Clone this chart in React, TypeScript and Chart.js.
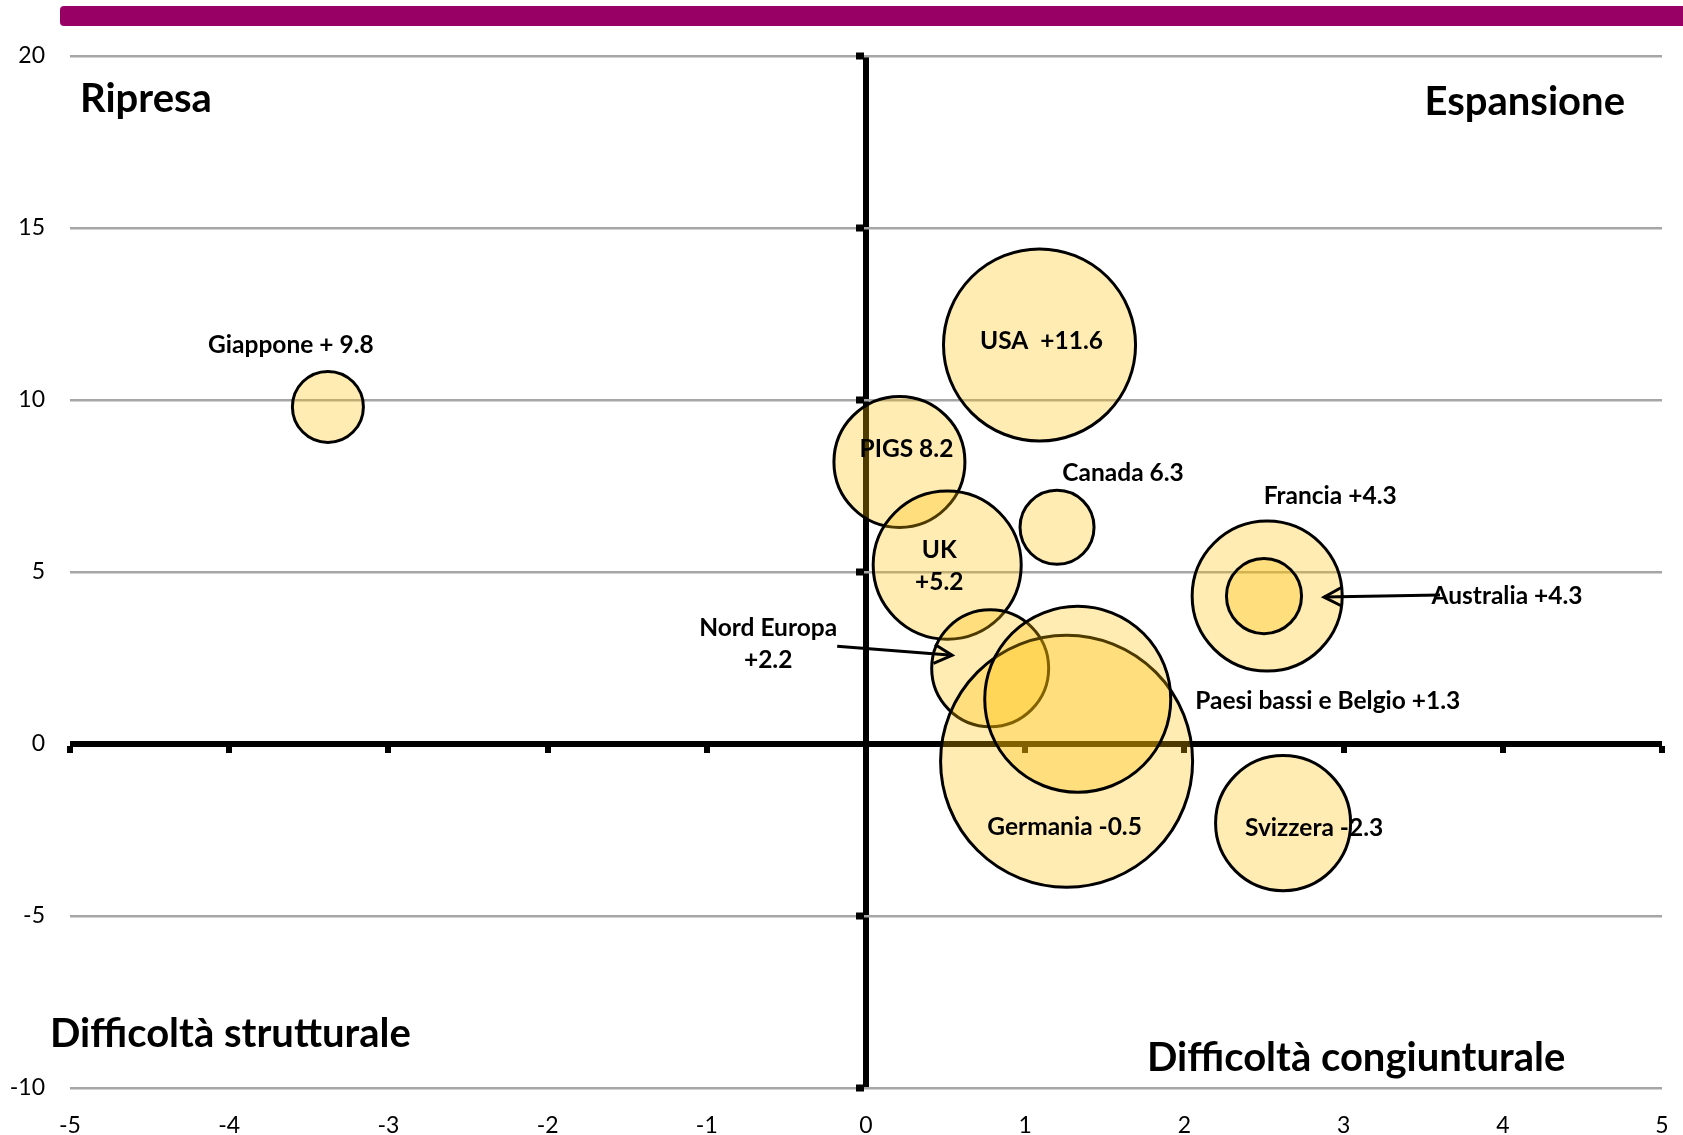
import React, { useEffect, useRef } from 'react';
import { Chart, registerables } from 'chart.js';

Chart.register(...registerables);

// ---- data ----
const countries = ['Giappone', 'USA', 'PIGS', 'Canada', 'UK', 'Francia', 'Australia', 'Nord Europa', 'Germania', 'Paesi bassi e Belgio', 'Svizzera'];
const xValues = [-3.38, 1.09, 0.21, 1.2, 0.51, 2.52, 2.5, 0.78, 1.26, 1.33, 2.62];
const yValues = [9.8, 11.6, 8.2, 6.3, 5.2, 4.3, 4.3, 2.2, -0.5, 1.3, -2.3];
const bubbleSizes = [12.6, 92.2, 42.9, 13.7, 54.8, 56.3, 14.1, 34.2, 158.8, 86.5, 45.6];
const pointLabels = [
  ['Giappone + 9.8'],
  ['USA  +11.6'],
  ['PIGS 8.2'],
  ['Canada 6.3'],
  ['UK', '+5.2'],
  ['Francia +4.3'],
  ['Australia +4.3'],
  ['Nord Europa', '+2.2'],
  ['Germania -0.5'],
  ['Paesi bassi e Belgio +1.3'],
  ['Svizzera -2.3'],
];
const quadrantTitles = ['Ripresa', 'Espansione', 'Difficoltà strutturale', 'Difficoltà congiunturale'];
const xMin = -5, xMax = 5, xStep = 1;
const yMin = -10, yMax = 20, yStep = 5;

// ---- layout of annotations (pixel offsets from bubble centre) ----
const labelOffsets: [number, number][] = [
  [-37, -62], [2, -4], [7, -13], [66, -54], [-8, -15], [63, -100], [243, 0], [-222, -40], [-2, 66], [250, 2], [31, 5],
];
const arrows = [
  { idx: 6, tail: [176, -1], tip: [60, 1] },
  { idx: 7, tail: [-153, -22], tip: [-38, -13] },
];

const FONT = 'Lato, "Open Sans", sans-serif';

export default function App() {
  const ref = useRef<HTMLCanvasElement>(null);

  useEffect(() => {
    const canvas = ref.current!;
    const points = countries.map((_, i) => ({ x: xValues[i], y: yValues[i], r: Math.sqrt(bubbleSizes[i]) * 10 }));

    const overlay = {
      id: 'overlay',
      beforeDraw(chart: any) {
        const ctx = chart.ctx;
        ctx.save();
        ctx.fillStyle = '#990066';
        ctx.beginPath();
        if (ctx.roundRect) ctx.roundRect(60, 6, 1640, 20, 4);
        else ctx.rect(60, 6, 1640, 20);
        ctx.fill();
        ctx.restore();
      },
      beforeDatasetsDraw(chart: any) {
        const ctx = chart.ctx;
        const xs = chart.scales.x, ys = chart.scales.y;
        const x0 = xs.getPixelForValue(0), y0 = ys.getPixelForValue(0);
        ctx.save();
        ctx.fillStyle = '#000';
        xs.ticks.forEach((t: any) => {
          if (t.value === 0) return;
          const px = xs.getPixelForValue(t.value);
          ctx.fillRect(Math.round(px) - 3, Math.round(y0) + 2, 6, 7);
        });
        ys.ticks.forEach((t: any) => {
          if (t.value === 0) return;
          const py = ys.getPixelForValue(t.value);
          ctx.fillRect(Math.round(x0) - 10, Math.round(py) - 3.5, 8, 7);
        });
        ctx.restore();
      },
      afterDatasetsDraw(chart: any) {
        const ctx = chart.ctx;
        const ca = chart.chartArea;
        const meta = chart.getDatasetMeta(0);
        ctx.save();
        ctx.fillStyle = '#000';
        ctx.textAlign = 'center';
        ctx.textBaseline = 'middle';
        ctx.font = `bold 24.5px ${FONT}`;
        pointLabels.forEach((lines, i) => {
          const el = meta.data[i];
          const [dx, dy] = labelOffsets[i];
          lines.forEach((ln, k) => ctx.fillText(ln, el.x + dx, el.y + dy + k * 31.5));
        });
        // arrows
        ctx.strokeStyle = '#000';
        ctx.lineWidth = 3;
        ctx.lineJoin = 'miter';
        arrows.forEach((a) => {
          const el = meta.data[a.idx];
          const tx = el.x + a.tail[0], ty = el.y + a.tail[1];
          const hx = el.x + a.tip[0], hy = el.y + a.tip[1];
          ctx.beginPath();
          ctx.moveTo(tx, ty);
          ctx.lineTo(hx, hy);
          ctx.stroke();
          const ang = Math.atan2(hy - ty, hx - tx);
          const L = 18, W = 9.5;
          const bx = hx - L * Math.cos(ang), by = hy - L * Math.sin(ang);
          ctx.beginPath();
          ctx.moveTo(bx + W * Math.sin(ang), by - W * Math.cos(ang));
          ctx.lineTo(hx, hy);
          ctx.lineTo(bx - W * Math.sin(ang), by + W * Math.cos(ang));
          ctx.stroke();
        });
        // quadrant titles
        ctx.font = `bold 40px ${FONT}`;
        ctx.textBaseline = 'alphabetic';
        ctx.textAlign = 'left';
        ctx.fillText(quadrantTitles[0], ca.left + 10, ca.top + 56);
        ctx.textAlign = 'right';
        ctx.fillText(quadrantTitles[1], ca.right - 37, ca.top + 59);
        ctx.textAlign = 'left';
        ctx.fillText(quadrantTitles[2], ca.left - 20, ca.bottom - 41);
        ctx.fillText(quadrantTitles[3], ca.left + 1077, ca.bottom - 17);
        ctx.restore();
      },
    };

    const chart = new Chart(canvas, {
      type: 'bubble',
      data: {
        datasets: [
          {
            data: points,
            backgroundColor: 'rgba(255,192,0,0.3)',
            borderColor: '#000',
            borderWidth: 3,
            hoverBorderWidth: 3,
          },
        ],
      },
      options: {
        responsive: false,
        devicePixelRatio: 1,
        animation: false,
        events: [],
        layout: { autoPadding: false, padding: { top: 56, right: 21, left: 0, bottom: 0 } },
        plugins: { legend: { display: false }, tooltip: { enabled: false } },
        scales: {
          x: {
            type: 'linear',
            min: xMin,
            max: xMax,
            afterFit: (s: any) => { s.height = 47; s.paddingLeft = 0; s.paddingRight = 0; },
            ticks: { stepSize: xStep, color: '#000', padding: 24, font: { family: FONT, size: 23 } },
            grid: {
              drawTicks: false,
              color: (c: any) => (c.tick && c.tick.value === 0 ? '#000' : 'rgba(0,0,0,0)'),
              lineWidth: (c: any) => (c.tick && c.tick.value === 0 ? 6 : 0),
            },
            border: { display: false },
          },
          y: {
            type: 'linear',
            min: yMin,
            max: yMax,
            afterFit: (s: any) => { s.width = 70; s.paddingTop = 0; s.paddingBottom = 0; },
            ticks: { stepSize: yStep, color: '#000', padding: 25, font: { family: FONT, size: 23 } },
            grid: {
              drawTicks: false,
              color: (c: any) => (c.tick && c.tick.value === 0 ? '#000' : '#A6A6A6'),
              lineWidth: (c: any) => (c.tick && c.tick.value === 0 ? 6 : 2.5),
            },
            border: { display: false },
          },
        },
      },
      plugins: [overlay],
    } as any);

    return () => chart.destroy();
  }, []);

  return (
    <div style={{ position: 'absolute', left: 0, top: 0, width: 1683, height: 1135, background: '#fff' }}>
      <canvas ref={ref} width={1683} height={1135} style={{ display: 'block', width: 1683, height: 1135 }} />
    </div>
  );
}
